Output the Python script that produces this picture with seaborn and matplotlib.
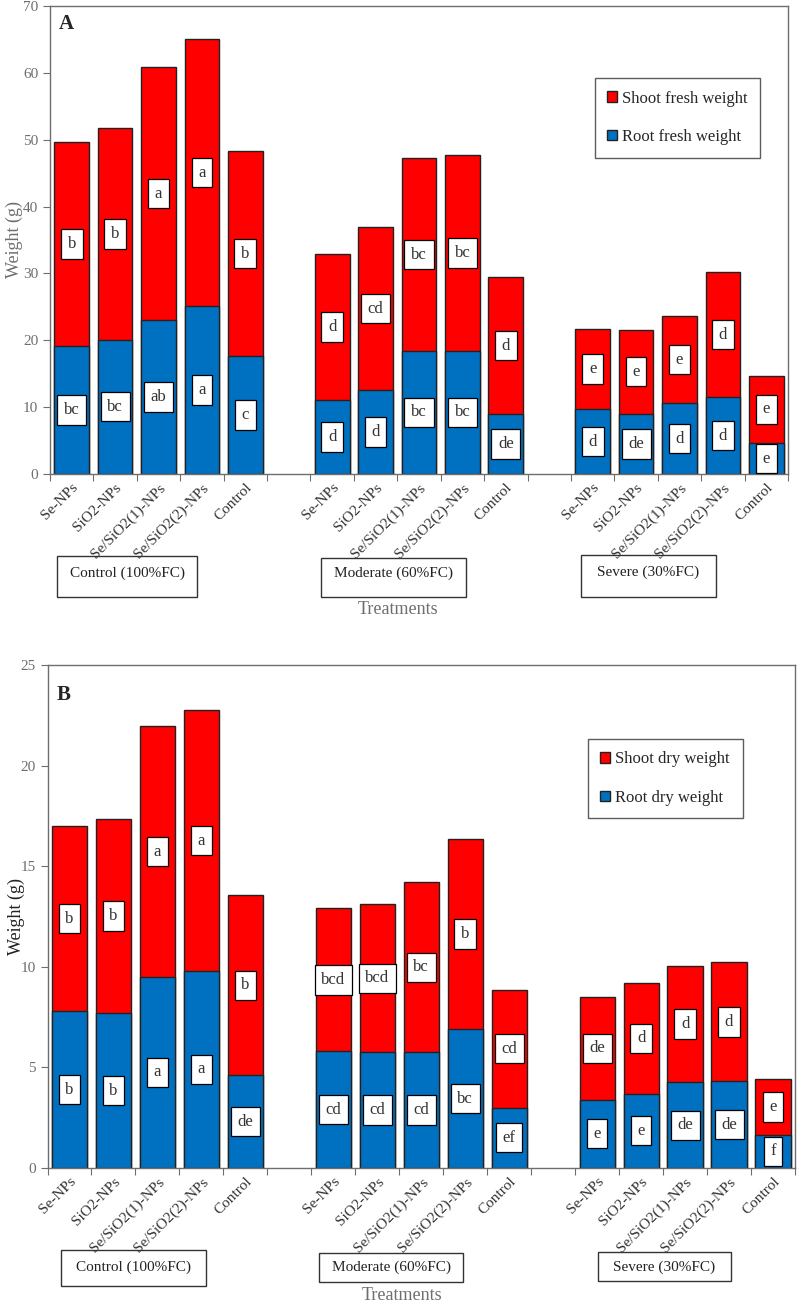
import pandas as pd
import matplotlib.pyplot as plt
import seaborn as sns
from matplotlib.patches import Rectangle

treatments = ['Se-NPs', 'SiO2-NPs', 'Se/SiO2(1)-NPs', 'Se/SiO2(2)-NPs', 'Control']
levels = ['Control (100%FC)', 'Moderate (60%FC)', 'Severe (30%FC)']

# panel A: fresh weight (g)
root_fresh = [19.1, 20.1, 23.0, 25.1, 17.6,
              11.1, 12.6, 18.4, 18.4, 9.0,
              9.7, 9.0, 10.6, 11.5, 4.6]
total_fresh = [49.7, 51.7, 60.9, 65.0, 48.3,
               32.9, 36.9, 47.2, 47.7, 29.4,
               21.7, 21.6, 23.6, 30.2, 14.7]
root_fresh_let = ['bc', 'bc', 'ab', 'a', 'c', 'd', 'd', 'bc', 'bc', 'de', 'd', 'de', 'd', 'd', 'e']
shoot_fresh_let = ['b', 'b', 'a', 'a', 'b', 'd', 'cd', 'bc', 'bc', 'd', 'e', 'e', 'e', 'd', 'e']

# panel B: dry weight (g)
root_dry = [7.8, 7.7, 9.5, 9.8, 4.6,
            5.8, 5.75, 5.75, 6.9, 3.0,
            3.4, 3.7, 4.25, 4.3, 1.65]
total_dry = [17.0, 17.35, 21.95, 22.75, 13.55,
             12.9, 13.1, 14.2, 16.35, 8.85,
             8.5, 9.2, 10.05, 10.22, 4.4]
root_dry_let = ['b', 'b', 'a', 'a', 'de', 'cd', 'cd', 'cd', 'bc', 'ef', 'e', 'e', 'de', 'de', 'f']
shoot_dry_let = ['b', 'b', 'a', 'a', 'b', 'bcd', 'bcd', 'bc', 'b', 'cd', 'de', 'd', 'd', 'd', 'e']

RED = '#FF0000'
BLUE = '#0070C0'
GRAY = '#6e6e6e'

sns.set_style('white')
plt.rcParams['font.family'] = ['Liberation Serif', 'DejaVu Serif']

W, H = 797, 1303
fig = plt.figure(figsize=(W / 100, H / 100), dpi=100)


def px_rect(x0, y0, x1, y1):
    return [x0 / W, 1 - y1 / H, (x1 - x0) / W, (y1 - y0) / H]


# slot positions: 5 bars, gap, 5 bars, gap, 5 bars
pos = [g * 6 + i for g in range(3) for i in range(5)]


def draw_panel(ax, root, total, root_let, shoot_let, shoot_name, root_name,
               ymax, ystep, letter, letter_y, ylab_color, ylab_x, leg_anchor):
    df = pd.DataFrame({'pos': pos, 'root': root, 'total': total,
                       'trt': treatments * 3})
    df['shoot'] = df['total'] - df['root']
    sns.barplot(data=df, x='pos', y='total', native_scale=True, width=0.8,
                color=RED, edgecolor='#222222', linewidth=1, saturation=1,
                label=shoot_name, ax=ax)
    sns.barplot(data=df, x='pos', y='root', native_scale=True, width=0.8,
                color=BLUE, edgecolor='#222222', linewidth=1, saturation=1,
                label=root_name, ax=ax)
    box = dict(boxstyle='square,pad=0.4', fc='white', ec='black', lw=0.9)
    for p, r, t, rl, sl in zip(df['pos'], df['root'], df['total'], root_let, shoot_let):
        ax.text(p, r / 2, rl, ha='center', va='center', fontsize=12,
                color='#333333', bbox=box)
        ax.text(p, r + (t - r) / 2, sl, ha='center', va='center', fontsize=12,
                color='#333333', bbox=box)

    ax.set_xlim(-0.5, 16.5)
    ax.set_ylim(0, ymax)
    ax.set_yticks(range(0, ymax + 1, ystep))
    ax.set_xticks([x - 0.5 for x in range(18)])
    ax.set_xticklabels([])
    ax.set_xticks(pos, minor=True)
    ax.set_xticklabels(treatments * 3, minor=True, rotation=45, ha='right',
                       rotation_mode='anchor', fontsize=11, color='#333333')
    ax.tick_params(axis='x', which='major', direction='out', length=5,
                   color=GRAY, bottom=True)
    ax.tick_params(axis='x', which='minor', length=0, pad=5)
    ax.tick_params(axis='y', direction='out', length=5, color=GRAY,
                   left=True, labelsize=11, labelcolor=GRAY)
    for s in ax.spines.values():
        s.set_color(GRAY)
        s.set_linewidth(1)
    ax.set_xlabel('')
    ax.set_ylabel('Weight (g)', fontsize=13, color=ylab_color)
    ax.yaxis.set_label_coords(ylab_x, 0.5)
    ax.text(0.012, letter_y, letter, transform=ax.transAxes, fontsize=15,
            fontweight='bold', ha='left', va='center')
    leg = ax.legend(loc='upper left', bbox_to_anchor=leg_anchor, frameon=True,
                    fancybox=False, edgecolor='#333333', fontsize=12,
                    handlelength=0.6, handleheight=0.6, handletextpad=0.3,
                    labelspacing=1.35, borderpad=0.75, borderaxespad=0)
    leg.get_frame().set_linewidth(1)


axA = fig.add_axes(px_rect(50, 6, 788, 474))
draw_panel(axA, root_fresh, total_fresh, root_fresh_let, shoot_fresh_let,
           'Shoot fresh weight', 'Root fresh weight', 70, 10, 'A', 0.962,
           GRAY, -0.037, (0.738, 0.846))

axB = fig.add_axes(px_rect(47.5, 665, 795, 1168))
draw_panel(axB, root_dry, total_dry, root_dry_let, shoot_dry_let,
           'Shoot dry weight', 'Root dry weight', 25, 5, 'B', 0.940,
           '#222222', -0.03, (0.723, 0.853))


def group_box(x0, y0, x1, y1, text, ty):
    fig.add_artist(Rectangle((x0 / W, 1 - y1 / H), (x1 - x0) / W, (y1 - y0) / H,
                             transform=fig.transFigure, fc='none',
                             ec='#333333', lw=1))
    fig.text((x0 + x1) / 2 / W, 1 - ty / H, text, ha='center', va='center',
             fontsize=11, color='#222222')


group_box(57, 556, 197, 597, levels[0], 573)
group_box(321, 558, 466, 597, levels[1], 573)
group_box(581, 555, 716, 597, levels[2], 572)
fig.text(398 / W, 1 - 609 / H, 'Treatments', ha='center', va='center',
         fontsize=13, color=GRAY)

group_box(61, 1250, 206, 1286, levels[0], 1267)
group_box(319, 1253, 463, 1282, levels[1], 1267)
group_box(598, 1252, 731, 1281, levels[2], 1267)
fig.text(402 / W, 1 - 1296 / H, 'Treatments', ha='center', va='center',
         fontsize=13, color=GRAY)

fig.savefig('out.png', dpi=100)
